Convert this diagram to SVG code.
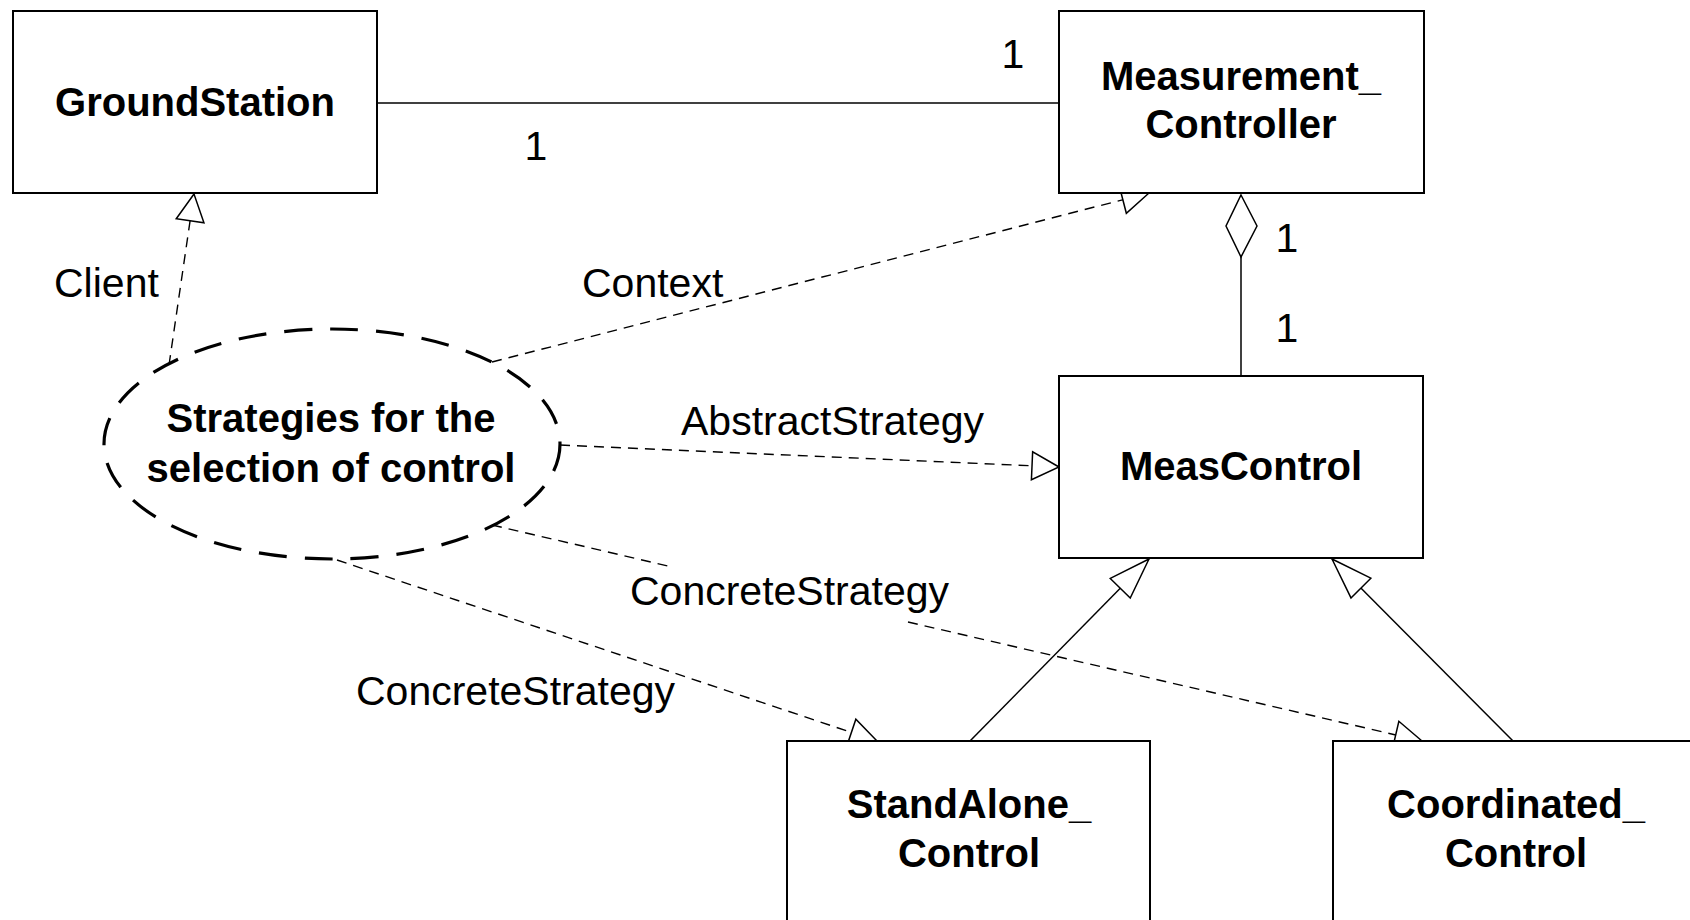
<svg xmlns="http://www.w3.org/2000/svg" width="1690" height="920" viewBox="0 0 1690 920">
<style>
  .box{fill:#fff;stroke:#000;stroke-width:2}
  .bt{font-family:"Liberation Sans",Arial,sans-serif;font-weight:bold;font-size:40px;fill:#000;text-anchor:middle}
  .lt{font-family:"Liberation Sans",Arial,sans-serif;font-size:41px;fill:#000}
  .solid{fill:none;stroke:#000;stroke-width:1.5}
  .dash{fill:none;stroke:#000;stroke-width:1.4;stroke-dasharray:10 7}
</style>
<defs>
  <marker id="dep" markerUnits="userSpaceOnUse" viewBox="-30 -16 32 32" refX="0" refY="0" markerWidth="32" markerHeight="32" orient="auto">
    <path d="M0,0 L-27,-14 L-27,14 Z" fill="#fff" stroke="#000" stroke-width="1.5" stroke-dasharray="none"/>
  </marker>
  <marker id="gen" markerUnits="userSpaceOnUse" viewBox="-44 -16 46 32" refX="0" refY="0" markerWidth="46" markerHeight="32" orient="auto">
    <path d="M0,0 L-41,-14 L-41,14 Z" fill="#fff" stroke="#000" stroke-width="1.5"/>
  </marker>
</defs>
<rect width="1690" height="920" fill="#fff"/>

<g id="connectors">
  <path class="solid" d="M377,103 L1059,103"/>
  <path class="solid" d="M1241,257 L1241,376"/>
  <polygon points="1241,195 1257,226 1241,257 1226,226" fill="#fff" stroke="#000" stroke-width="1.5"/>
  <path class="dash" d="M169,365 L194,194" marker-end="url(#dep)"/>
  <path class="dash" d="M492,362 L1149,193" marker-end="url(#dep)"/>
  <path class="dash" d="M560,445 L1059,467" marker-end="url(#dep)"/>
  <path class="dash" d="M492,525 L668,566"/>
  <path class="dash" d="M908,622 L1422,741" marker-end="url(#dep)"/>
  <path class="dash" d="M337,560 L877,741" marker-end="url(#dep)"/>
  <path class="solid" d="M970,741 L1149,559" marker-end="url(#gen)"/>
  <path class="solid" d="M1513,741 L1332,559" marker-end="url(#gen)"/>
  <text class="lt" x="536" y="160" text-anchor="middle">1</text>
  <text class="lt" x="1013" y="68" text-anchor="middle">1</text>
  <text class="lt" x="1287" y="252" text-anchor="middle">1</text>
  <text class="lt" x="1287" y="342" text-anchor="middle">1</text>
  <text class="lt" x="54" y="297">Client</text>
  <text class="lt" x="582" y="297">Context</text>
  <text class="lt" x="681" y="435">AbstractStrategy</text>
  <text class="lt" x="630" y="605">ConcreteStrategy</text>
  <text class="lt" x="356" y="705">ConcreteStrategy</text>
</g>

<g id="GroundStation">
  <rect class="box" x="13" y="11" width="364" height="182"/>
  <text class="bt" x="195" y="116">GroundStation</text>
</g>
<g id="Measurement_Controller">
  <rect class="box" x="1059" y="11" width="365" height="182"/>
  <text class="bt" x="1241" y="90">Measurement_</text>
  <text class="bt" x="1241" y="138">Controller</text>
</g>
<g id="MeasControl">
  <rect class="box" x="1059" y="376" width="364" height="182"/>
  <text class="bt" x="1241" y="480">MeasControl</text>
</g>
<g id="StandAlone_Control">
  <rect class="box" x="787" y="741" width="363" height="200"/>
  <text class="bt" x="969" y="818">StandAlone_</text>
  <text class="bt" x="969" y="867">Control</text>
</g>
<g id="Coordinated_Control">
  <rect class="box" x="1333" y="741" width="364" height="200"/>
  <text class="bt" x="1516" y="818">Coordinated_</text>
  <text class="bt" x="1516" y="867">Control</text>
</g>
<g id="Strategies">
  <ellipse cx="332" cy="444" rx="228" ry="115" fill="none" stroke="#000" stroke-width="3.2" stroke-dasharray="28 18"/>
  <text class="bt" x="331" y="432">Strategies for the</text>
  <text class="bt" x="331" y="482">selection of control</text>
</g>
</svg>
